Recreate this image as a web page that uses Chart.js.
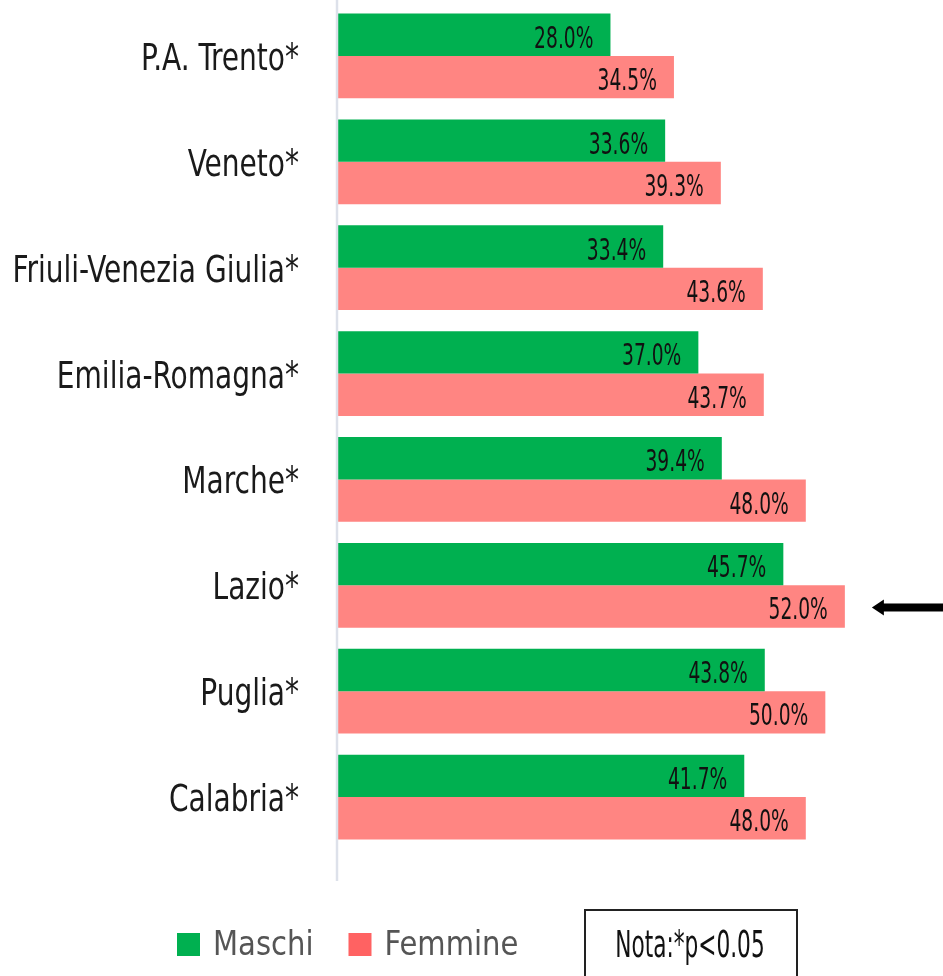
<!DOCTYPE html>
<html>
<head>
<meta charset="utf-8">
<script src="https://cdn.jsdelivr.net/npm/chart.js@4.4.0/dist/chart.umd.min.js"></script>
<style>
    html, body { margin: 0; padding: 0; background: #fff; }
    #wrap { width: 943px; height: 976px; }
</style>
</head>
<body>
<div id="wrap"><canvas id="regionChart" width="943" height="976"></canvas></div>
<script>
const regions = ['P.A. Trento*', 'Veneto*', 'Friuli-Venezia Giulia*', 'Emilia-Romagna*', 'Marche*', 'Lazio*', 'Puglia*', 'Calabria*'];
const maschi = [28.0, 33.6, 33.4, 37.0, 39.4, 45.7, 43.8, 41.7];
const femmine = [34.5, 39.3, 43.6, 43.7, 48.0, 52.0, 50.0, 48.0];
const seriesNames = ['Maschi', 'Femmine'];
const noteText = 'Nota:*p<0.05';
const highlightRegion = 'Lazio*';

const FONT = '"DejaVu Sans Condensed", "DejaVu Sans", sans-serif';
const GREEN = '#00B050';
const PINK = '#FF8582';

// draw condensed text (no condensed DIN font available, so squeeze horizontally)
function squeezedText(ctx, text, x, y, size, sx, align) {
    ctx.save();
    ctx.font = size + 'px ' + FONT;
    ctx.textAlign = align;
    ctx.textBaseline = 'alphabetic';
    ctx.translate(x, y);
    ctx.scale(sx, 1);
    ctx.fillText(text, 0, 0);
    ctx.restore();
}

// value labels at the inner end of every bar + category labels
const valueLabels = {
    id: 'valueLabels',
    afterDatasetsDraw: function (chart) {
        const ctx = chart.ctx;
        ctx.save();
        ctx.fillStyle = '#111';
        chart.data.datasets.forEach(function (ds, i) {
            chart.getDatasetMeta(i).data.forEach(function (bar, j) {
                squeezedText(ctx, ds.data[j].toFixed(1) + '%', bar.x - 17, bar.y + 13, 31, 0.67, 'right');
            });
        });

        const yScale = chart.scales.y;
        ctx.fillStyle = '#1a1a1a';
        regions.forEach(function (r, i) {
            squeezedText(ctx, r, yScale.right - 38, yScale.getPixelForValue(i) + 14, 38, 0.82, 'right');
        });
        ctx.restore();
    }
};

// axis line, legend, note box and arrow
const extras = {
    id: 'extras',
    afterDraw: function (chart) {
        const ctx = chart.ctx;
        const area = chart.chartArea;
        ctx.save();

        ctx.strokeStyle = '#dde1ea';
        ctx.lineWidth = 2.5;
        ctx.beginPath();
        ctx.moveTo(area.left, 0);
        ctx.lineTo(area.left, area.bottom + 31);
        ctx.stroke();

        // legend
        const legBase = area.bottom + 105;
        let x = 177;
        chart.data.datasets.forEach(function (ds) {
            ctx.fillStyle = ds.legendColor;
            ctx.fillRect(x, legBase - 22, 23, 23);
            ctx.fillStyle = '#555';
            squeezedText(ctx, ds.label, x + 36, legBase, 34, 0.95, 'left');
            ctx.font = '34px ' + FONT;
            x += 36 + ctx.measureText(ds.label).width * 0.95 + 35;
        });

        // note box
        ctx.strokeStyle = '#222';
        ctx.lineWidth = 2;
        ctx.strokeRect(585, area.bottom + 60, 212, 72);
        ctx.fillStyle = '#111';
        squeezedText(ctx, noteText, 690, legBase + 2, 37, 0.65, 'center');

        // arrow pointing at the highlighted region
        const idx = regions.indexOf(highlightRegion);
        const bar = chart.getDatasetMeta(1).data[idx];
        const ay = bar.y + 1;
        const ax = bar.x + 27;
        ctx.fillStyle = '#000';
        ctx.fillRect(ax + 8, ay - 4, chart.width - ax - 8, 8);
        ctx.beginPath();
        ctx.moveTo(ax, ay);
        ctx.lineTo(ax + 12, ay - 8);
        ctx.lineTo(ax + 12, ay + 8);
        ctx.closePath();
        ctx.fill();

        ctx.restore();
    }
};

const ctx = document.getElementById('regionChart').getContext('2d');
new Chart(ctx, {
    type: 'bar',
    data: {
        labels: regions,
        datasets: [
            { label: seriesNames[0], data: maschi, backgroundColor: GREEN, legendColor: '#00B050' },
            { label: seriesNames[1], data: femmine, backgroundColor: PINK, legendColor: '#FF6262' }
        ]
    },
    options: {
        indexAxis: 'y',
        responsive: false,
        animation: false,
        maintainAspectRatio: false,
        categoryPercentage: 0.8,
        barPercentage: 1.0,
        layout: {
            padding: { top: 3, right: 20, bottom: 126, left: 0 }
        },
        plugins: {
            legend: { display: false },
            tooltip: { enabled: false }
        },
        scales: {
            x: {
                display: false,
                min: 0,
                max: 60
            },
            y: {
                grid: { display: false },
                border: { display: false },
                ticks: { display: false },
                afterFit: function (scale) {
                    scale.width = 337;
                }
            }
        }
    },
    plugins: [valueLabels, extras]
});
</script>
</body>
</html>
